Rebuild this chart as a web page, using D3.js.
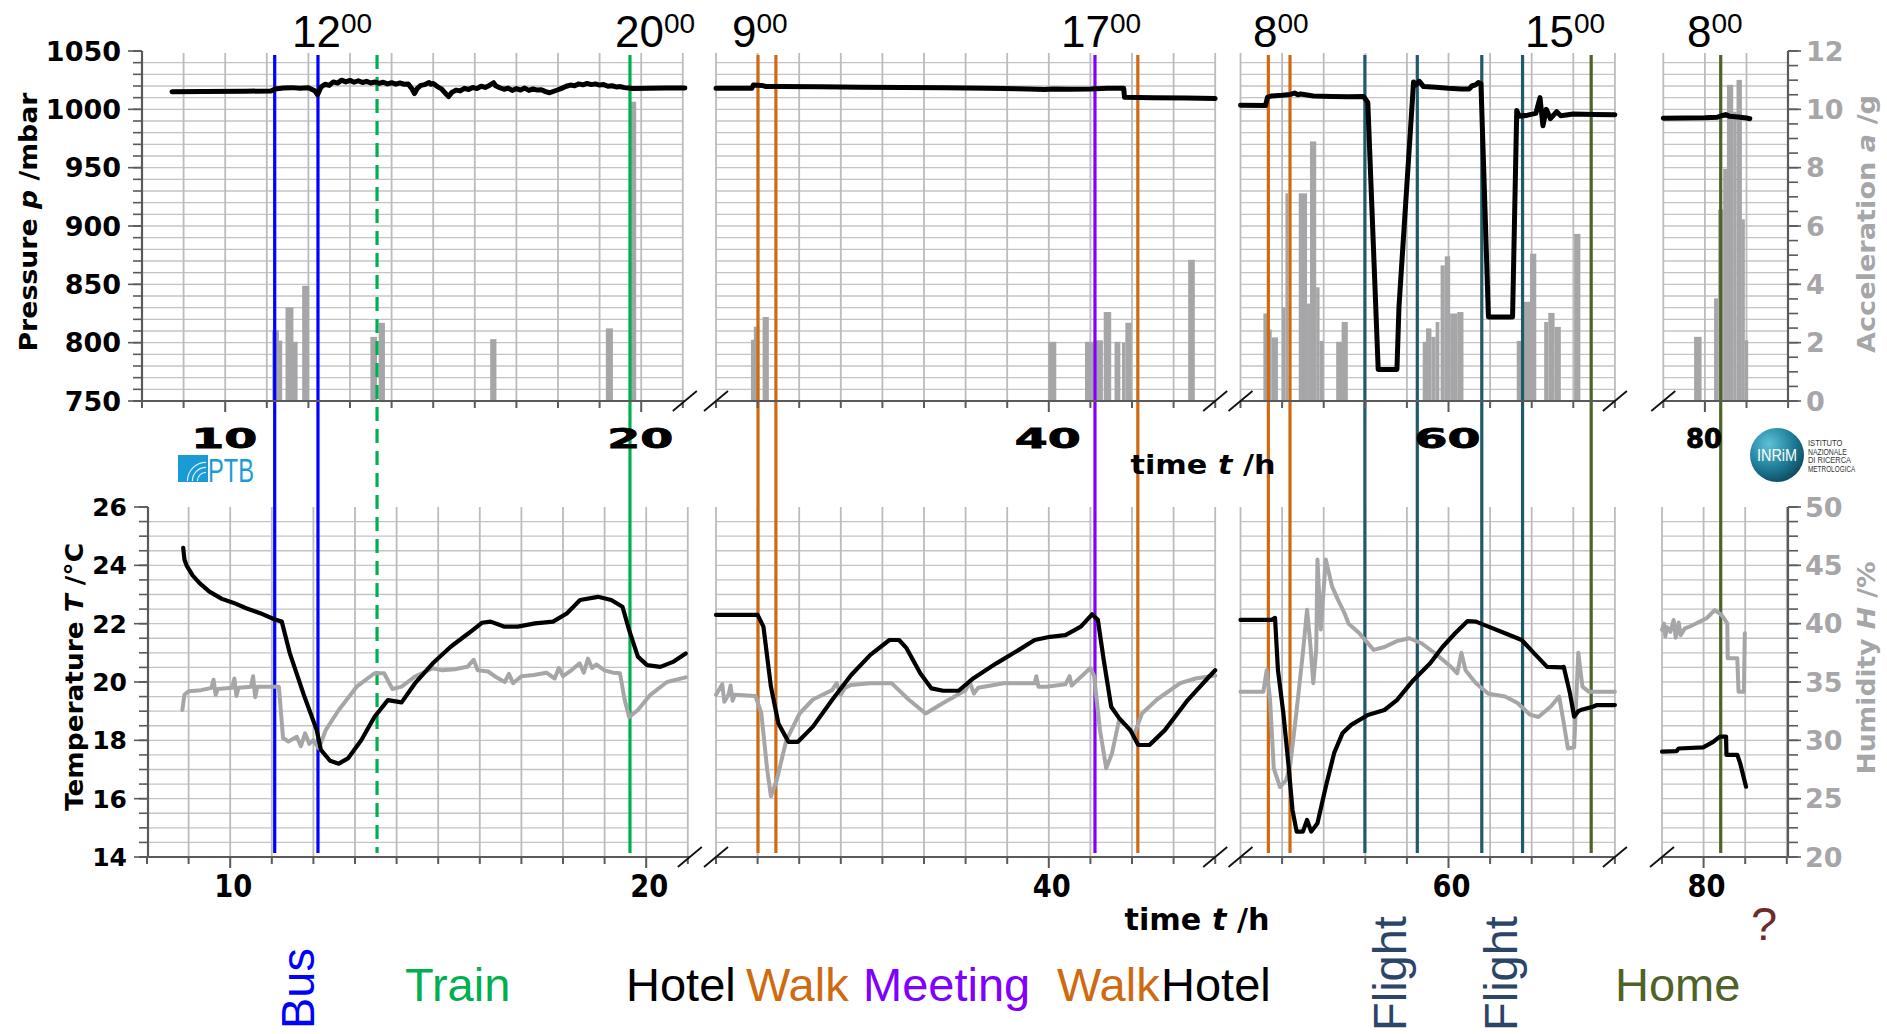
<!DOCTYPE html>
<html><head><meta charset="utf-8">
<script src="https://cdn.jsdelivr.net/npm/d3@7"></script>
<style>body{margin:0;background:#fff}svg{display:block}</style>
</head><body>
<svg id="c" width="1887" height="1034"></svg>
<script>
// ---------------- DATA ----------------
const segments = [[8, 21], [32, 44], [55, 64], [79, 82]];
const pressureTicks = [750, 800, 850, 900, 950, 1000, 1050];
const accelTicks = [0, 2, 4, 6, 8, 10, 12];
const tempTicks = [14, 16, 18, 20, 22, 24, 26];
const humTicks = [20, 25, 30, 35, 40, 45, 50];
const timeTickLabels = [10, 20, 40, 60, 80];
const clockMain = ["12", "20", "9", "17", "8", "15", "8"];
const clockSup = ["00", "00", "00", "00", "00", "00", "00"];

const pressureSeg1 = [[8.72,1015.0],[9.5,1015.3],[10.5,1015.5],[11.1,1015.8],[11.2,1017.5],[11.4,1018.2],[11.6,1018.6],[11.8,1018.0],[12.0,1018.5],[12.15,1016.0],[12.22,1012.5],[12.3,1019.0],[12.4,1021.5],[12.5,1020.5],[12.6,1023.5],[12.7,1022.5],[12.8,1025.0],[12.9,1023.5],[13.0,1024.8],[13.1,1023.2],[13.2,1024.5],[13.3,1023.0],[13.4,1024.0],[13.5,1022.6],[13.6,1023.4],[13.7,1022.2],[13.8,1023.2],[13.9,1021.8],[14.0,1022.8],[14.1,1021.6],[14.2,1022.6],[14.3,1021.5],[14.4,1021.8],[14.5,1017.0],[14.55,1013.5],[14.62,1018.0],[14.7,1020.5],[14.8,1021.2],[14.9,1023.0],[14.95,1021.5],[15.0,1022.2],[15.1,1019.5],[15.2,1017.5],[15.3,1013.5],[15.37,1011.0],[15.45,1014.5],[15.55,1016.5],[15.65,1015.8],[15.75,1018.0],[15.85,1017.0],[15.95,1018.8],[16.05,1017.8],[16.15,1019.8],[16.25,1018.8],[16.35,1020.5],[16.45,1022.8],[16.5,1020.2],[16.6,1018.5],[16.7,1017.2],[16.8,1018.2],[16.9,1016.2],[17.0,1017.8],[17.1,1016.5],[17.2,1018.2],[17.3,1016.2],[17.4,1017.5],[17.5,1016.5],[17.6,1016.8],[17.7,1015.2],[17.8,1014.2],[17.9,1015.5],[18.0,1016.8],[18.1,1018.2],[18.2,1019.8],[18.3,1020.8],[18.4,1020.2],[18.5,1021.8],[18.6,1021.0],[18.7,1022.2],[18.8,1021.2],[18.9,1021.8],[19.0,1020.8],[19.1,1021.2],[19.2,1019.8],[19.3,1020.2],[19.4,1019.2],[19.5,1019.5],[19.6,1018.6],[19.7,1018.2],[19.8,1017.8],[20.2,1018.0],[20.6,1018.2],[21.05,1018.3]];
const pressureSeg2 = [[32.0,1018.0],[32.86,1018.0],[32.9,1020.9],[33.1,1020.5],[33.2,1019.6],[33.5,1019.5],[34.5,1019.3],[35.5,1019.0],[36.5,1018.8],[37.5,1018.5],[38.5,1018.0],[39.5,1017.5],[39.9,1017.0],[40.1,1017.5],[40.5,1017.3],[41.0,1017.5],[41.4,1018.0],[41.8,1018.0],[41.82,1010.3],[42.5,1010.0],[43.3,1009.7],[44.0,1009.3]];
const pressureSeg3 = [[55.0,1003.5],[55.6,1003.2],[55.65,1010.5],[55.75,1011.5],[56.0,1012.0],[56.2,1012.8],[56.3,1014.0],[56.38,1012.5],[56.45,1013.2],[56.75,1011.5],[57.2,1011.0],[57.6,1010.8],[57.96,1011.0],[58.06,1006.0],[58.31,777.0],[58.76,777.0],[58.81,831.0],[59.16,1023.5],[59.22,1021.0],[59.3,1024.0],[59.4,1019.5],[59.7,1019.0],[60.0,1018.0],[60.3,1017.5],[60.5,1017.5],[60.56,1020.0],[60.65,1021.0],[60.72,1023.0],[60.78,1022.0],[60.96,822.0],[61.54,822.0],[61.64,999.0],[61.7,994.0],[61.9,995.0],[62.1,996.5],[62.2,1010.0],[62.27,986.0],[62.35,1000.0],[62.45,992.0],[62.6,998.0],[62.7,994.5],[63.0,996.0],[63.5,995.5],[64.0,995.3]];
const pressureSeg4 = [[79.0,992.3],[79.5,992.5],[80.0,992.8],[80.3,993.3],[80.4,994.5],[80.5,995.5],[80.6,994.0],[80.8,993.5],[81.0,992.5],[81.08,992.0]];

const accelBars = [[11.13,11.29,2.43],[11.24,11.37,2.07],[11.45,11.64,3.21],[11.62,11.74,2.03],[11.85,12.02,3.95],[13.49,13.65,2.2],[13.69,13.84,2.68],[16.37,16.52,2.12],[19.15,19.32,2.49],[19.75,19.88,10.26],
 [32.84,32.95,2.1],[32.91,33.04,2.55],[33.12,33.27,2.88],[39.99,40.18,2.03],[40.87,41.07,2.03],[41.07,41.3,2.08],[41.32,41.5,3.05],[41.58,41.72,2.03],[41.76,41.84,2.0],[41.84,41.99,2.68],[43.35,43.51,4.84],
 [55.55,55.67,3.0],[55.67,55.75,2.45],[55.75,55.9,2.18],[56.0,56.08,3.22],[56.08,56.15,7.12],[56.4,56.6,7.12],[56.6,56.67,3.34],[56.67,56.82,8.9],[56.82,56.9,3.9],[56.9,57.0,2.06],[57.3,57.45,2.03],[57.43,57.58,2.71],[59.38,59.5,2.03],[59.46,59.59,2.49],[59.59,59.69,2.2],[59.69,59.78,2.71],[59.81,59.91,4.65],[59.91,60.04,4.96],[60.04,60.21,3.0],[60.21,60.36,3.05],[61.64,61.76,2.06],[61.81,61.96,3.4],[61.96,62.11,5.05],[62.3,62.4,2.71],[62.4,62.55,3.02],[62.55,62.7,2.54],[63.02,63.17,5.73],
 [79.74,79.92,2.2],[80.22,80.32,3.52],[80.32,80.44,6.57],[80.44,80.53,7.96],[80.53,80.68,10.84],[80.68,80.76,9.92],[80.76,80.89,11.01],[80.89,80.96,6.23],[80.96,81.04,2.08]];

const tempSeg1 = [[8.87,24.6],[8.9,24.2],[8.95,24.0],[9.1,23.65],[9.27,23.38],[9.5,23.1],[9.8,22.85],[10.07,22.72],[10.4,22.52],[10.72,22.36],[11.06,22.15],[11.24,22.07],[11.43,21.0],[11.76,19.6],[12.08,18.35],[12.18,17.67],[12.4,17.3],[12.61,17.2],[12.83,17.38],[13.15,18.0],[13.47,18.81],[13.79,19.38],[14.12,19.3],[14.44,19.95],[14.87,20.64],[15.3,21.21],[15.73,21.67],[16.05,22.03],[16.26,22.07],[16.58,21.9],[16.91,21.9],[17.33,22.01],[17.76,22.07],[18.09,22.35],[18.41,22.81],[18.84,22.92],[19.16,22.81],[19.43,22.58],[19.59,21.78],[19.8,20.87],[20.02,20.58],[20.34,20.52],[20.66,20.7],[20.95,20.98]];
const tempSeg2 = [[32.0,22.3],[33.0,22.3],[33.14,21.9],[33.32,19.84],[33.5,18.58],[33.74,17.95],[33.97,17.95],[34.33,18.47],[34.79,19.38],[35.25,20.24],[35.71,20.93],[36.17,21.44],[36.4,21.44],[36.58,21.16],[36.91,20.3],[37.18,19.78],[37.46,19.7],[37.83,19.7],[38.19,20.13],[38.74,20.64],[39.3,21.12],[39.66,21.44],[40.03,21.55],[40.4,21.61],[40.77,21.9],[41.04,22.32],[41.18,22.13],[41.32,20.76],[41.5,19.15],[41.69,18.76],[41.96,18.35],[42.15,17.84],[42.42,17.84],[42.79,18.35],[43.34,19.38],[43.89,20.24],[44.0,20.4]];
const tempSeg3 = [[55.0,22.13],[55.75,22.13],[55.83,22.2],[55.9,20.41],[56.03,18.93],[56.15,17.21],[56.25,15.61],[56.35,14.87],[56.5,14.87],[56.6,15.27],[56.7,14.87],[56.85,15.16],[57.05,16.41],[57.25,17.56],[57.45,18.24],[57.66,18.53],[58.06,18.87],[58.46,19.04],[58.76,19.38],[59.16,20.07],[59.56,20.64],[59.86,21.21],[60.16,21.67],[60.46,22.09],[60.66,22.07],[60.96,21.9],[61.36,21.67],[61.76,21.44],[62.06,20.98],[62.37,20.52],[62.72,20.5],[62.77,20.52],[62.92,19.61],[63.02,18.81],[63.12,19.0],[63.22,19.06],[63.47,19.15],[63.57,19.21],[64.0,19.21]];
const tempSeg4 = [[79.0,17.61],[79.35,17.63],[79.4,17.72],[79.99,17.76],[80.23,17.95],[80.39,18.13],[80.54,18.13],[80.55,17.5],[80.81,17.5],[80.88,17.21],[81.02,16.41]];

const humSeg1 = [[8.85,32.6],[8.9,33.9],[9.0,34.2],[9.3,34.3],[9.55,34.5],[9.6,35.2],[9.65,33.9],[9.7,34.4],[10.05,34.5],[10.1,35.3],[10.15,33.8],[10.2,34.5],[10.5,34.6],[10.55,35.5],[10.6,33.7],[10.65,34.6],[11.17,34.6],[11.27,30.2],[11.4,29.9],[11.6,30.3],[11.7,29.5],[11.8,30.6],[11.9,29.7],[12.0,30.0],[12.13,29.3],[12.3,30.9],[12.61,32.6],[13.04,34.6],[13.47,35.75],[13.7,35.75],[13.9,34.4],[14.12,34.6],[14.44,35.46],[14.87,36.18],[15.1,36.0],[15.4,36.1],[15.7,36.3],[15.85,36.9],[15.95,36.0],[16.2,35.9],[16.4,35.4],[16.6,35.0],[16.7,35.7],[16.8,34.9],[17.0,35.5],[17.3,35.6],[17.6,35.8],[17.8,35.3],[17.9,36.2],[18.0,35.5],[18.2,36.0],[18.4,36.6],[18.5,35.8],[18.6,37.0],[18.7,36.2],[18.8,36.5],[19.0,36.0],[19.2,35.8],[19.37,35.75],[19.48,33.5],[19.59,32.0],[19.8,32.6],[20.1,33.9],[20.5,35.0],[20.95,35.4]];
const humSeg2 = [[32.0,33.9],[32.15,34.8],[32.2,33.3],[32.3,33.9],[32.35,34.7],[32.4,33.4],[32.45,33.9],[32.95,33.8],[33.09,32.3],[33.23,27.5],[33.32,25.2],[33.46,26.6],[33.69,30.0],[34.01,32.3],[34.33,33.5],[34.79,34.3],[34.9,34.9],[35.0,33.9],[35.1,34.5],[35.25,34.75],[35.71,34.9],[36.22,34.9],[36.63,33.5],[37.04,32.3],[37.46,33.2],[38.0,34.3],[38.1,35.0],[38.2,34.0],[38.3,34.5],[38.92,34.9],[39.66,34.9],[39.7,35.5],[39.75,34.6],[39.94,34.6],[40.4,34.8],[40.5,35.5],[40.55,34.7],[41.0,36.2],[41.09,35.5],[41.23,30.9],[41.38,27.6],[41.52,28.9],[41.69,31.75],[41.87,31.2],[42.05,30.5],[42.24,32.3],[42.6,33.5],[43.16,34.9],[43.53,35.3],[43.89,35.5],[44.0,35.55]];
const humSeg3 = [[55.0,34.17],[55.55,34.17],[55.63,36.0],[55.71,33.5],[55.8,27.6],[55.95,26.0],[56.1,26.6],[56.2,28.0],[56.35,32.6],[56.5,37.5],[56.6,41.2],[56.67,38.6],[56.75,34.9],[56.82,37.75],[56.85,45.5],[56.93,39.5],[57.05,45.5],[57.2,43.2],[57.35,42.0],[57.5,40.9],[57.6,40.0],[57.85,39.2],[58.2,37.75],[58.46,38.0],[58.76,38.5],[59.06,38.75],[59.36,38.3],[59.66,37.5],[59.86,36.9],[60.06,36.3],[60.21,35.75],[60.31,37.5],[60.41,36.0],[60.66,34.9],[60.96,34.0],[61.36,33.75],[61.66,33.2],[61.96,32.2],[62.16,32.0],[62.46,32.9],[62.66,33.75],[62.77,31.5],[62.87,29.3],[63.02,29.4],[63.12,37.5],[63.22,34.6],[63.37,34.17],[64.0,34.17]];
const humSeg4 = [[79.0,39.46],[79.05,40.0],[79.08,38.9],[79.12,39.7],[79.2,39.3],[79.28,40.3],[79.33,38.8],[79.4,40.1],[79.45,39.0],[79.55,39.6],[79.66,39.74],[80.07,40.46],[80.27,41.17],[80.43,40.75],[80.57,40.03],[80.58,37.03],[80.81,37.03],[80.84,34.17],[80.97,34.17],[80.99,39.18]];

const eventTimes = [11.19, 12.23, 13.65, 19.73, 33.01, 33.44, 41.11, 42.14, 55.67, 56.19, 57.99, 59.25, 60.80, 61.78, 63.43, 80.38];
const eventKinds = ["bus","bus","trainStart","train","walk","walk","meeting","walk","walk","walk","flight","flight","flight","flight","home","home"];

const activityTexts = ["Bus","Train","Hotel","Walk","Meeting","Walk","Hotel","Flight","Flight","Home","?"];
const activityKinds = ["bus","train","hotel","walk","meeting","walk","hotel","flightText","flightText","home","unknown"];

// ---------------- STYLE / LAYOUT ----------------
const kindColor = {bus:"#0000ff", train:"#00b050", trainStart:"#00b050", walk:"#d06a10", meeting:"#7f00ff",
  flight:"#1f5a6c", flightText:"#2a4567", home:"#4f6228", hotel:"#000000", unknown:"#6d2b2b"};
const GRAY = "#a6a6a8", AX = "#5a5a5a", GRID = "#c4c4c4";
const PXH = 41.6;
const upperX0 = [142, 716, 1240.5, 1663.3];
const lowerX0 = [147, 716, 1240.5, 1662];
const UT = 51, UB = 401, LT = 507, LB = 857;
const FAX = "DejaVu Sans, Verdana, sans-serif";
const FAR = "Liberation Sans, Arial, sans-serif";

const mk = x0s => segments.map((s, i) => d3.scaleLinear().domain(s).range([x0s[i], x0s[i] + (s[1] - s[0]) * PXH]));
const xU = mk(upperX0), xL = mk(lowerX0);
const segOf = t => segments.findIndex(s => t >= s[0] - 0.01 && t <= s[1] + 0.01);
const yP = d3.scaleLinear().domain([750, 1050]).range([UB, UT]);
const yA = d3.scaleLinear().domain([0, 12]).range([UB, UT]);
const yT = d3.scaleLinear().domain([14, 26]).range([LB, LT]);
const yH = d3.scaleLinear().domain([20, 50]).range([LB, LT]);

const svg = d3.select("#c");
const gGrid = svg.append("g"), gBars = svg.append("g"), gEv = svg.append("g"), gLines = svg.append("g"), gAx = svg.append("g"), gTxt = svg.append("g");

function hline(g, x1, x2, y, c, w){ g.append("line").attr("x1",x1).attr("x2",x2).attr("y1",y).attr("y2",y).attr("stroke",c).attr("stroke-width",w); }
function vline(g, x, y1, y2, c, w){ g.append("line").attr("x1",x).attr("x2",x).attr("y1",y1).attr("y2",y2).attr("stroke",c).attr("stroke-width",w); }

// ---------- grids & bottom axes ----------
function panel(xs, top, bottom, hVals, yScale, topGrid){
  segments.forEach((s, i) => {
    const [xa, xb] = xs[i].range();
    hVals.forEach(v => hline(gGrid, xa, xb, yScale(v), GRID, 1.4));
    d3.range(Math.ceil(s[0]), Math.floor(s[1]) + 1).forEach(t => {
      if (i === 0 && t === s[0]) return;
      vline(gGrid, xs[i](t), topGrid, bottom, "#bcbcbc", 1.8);
    });
    hline(gAx, xa - (i === 0 ? 8 : 0), xb + (i === 0 ? 2 : 0), bottom, AX, 2);
    d3.range(Math.ceil(s[0]), Math.floor(s[1]) + 1).forEach(t => {
      const major = timeTickLabels.includes(t);
      vline(gAx, xs[i](t), bottom, bottom + (major ? 11 : 7), AX, 2);
    });
    const marks = [];
    if (i > 0) marks.push(xa);
    if (i < segments.length - 1) marks.push(xb + (i === 0 ? 2 : 0));
    marks.forEach(mx => gAx.append("line").attr("x1", mx - 12).attr("y1", bottom + 10).attr("x2", mx + 12).attr("y2", bottom - 10).attr("stroke", "#111").attr("stroke-width", 1.8));
  });
}
panel(xU, UT, UB, d3.range(760, 1041, 10), yP, UT + 2);
panel(xL, LT, LB, d3.range(14.5, 25.51, 0.5), yT, LT);

// ---------- left / right axes ----------
function leftAxis(x, top, bottom, scale, minorVals, majorVals, lblX, fs){
  vline(gAx, x, top, bottom, AX, 2.2);
  minorVals.forEach(v => hline(gAx, x - 9, x, scale(v), AX, 1.6));
  majorVals.forEach(v => {
    hline(gAx, x - 14, x, scale(v), AX, 1.6);
    gTxt.append("text").attr("x", lblX).attr("y", scale(v)).attr("dy", "0.36em").attr("text-anchor", "end")
      .attr("font-family", FAX).attr("font-weight", "bold").attr("font-size", fs).attr("fill", "#000").text(v);
  });
}
function rightAxis(x, top, bottom, scale, minorVals, majorVals, lblX, fs){
  vline(gAx, x, top, bottom, AX, 2.2);
  minorVals.forEach(v => hline(gAx, x, x + 10, scale(v), AX, 1.6));
  majorVals.forEach(v => {
    hline(gAx, x, x + 13, scale(v), AX, 1.6);
    gTxt.append("text").attr("x", lblX).attr("y", scale(v)).attr("dy", "0.36em").attr("text-anchor", "start")
      .attr("font-family", FAX).attr("font-weight", "bold").attr("font-size", fs).attr("fill", GRAY).text(v);
  });
}
leftAxis(142, UT, UB, yP, d3.range(750, 1051, 10), pressureTicks, 121, 27);
rightAxis(1788, UT, UB, yA, d3.range(0, 12.01, 0.5), accelTicks, 1806, 27);
leftAxis(148, LT, LB, yT, d3.range(14, 26.01, 0.5), tempTicks, 127, 25);
rightAxis(1788, LT, LB, yH, d3.range(20, 50.01, 1.25), humTicks, 1805, 27);

// ---------- acceleration bars ----------
gBars.selectAll("rect").data(accelBars).join("rect")
  .attr("x", d => xU[segOf(d[0])](d[0]))
  .attr("width", d => xU[segOf(d[0])](d[1]) - xU[segOf(d[0])](d[0]))
  .attr("y", d => yA(d[2]))
  .attr("height", d => yA(0) - yA(d[2]))
  .attr("fill", GRAY);

// ---------- event lines ----------
eventTimes.forEach((t, i) => {
  const k = eventKinds[i];
  const l = gEv.append("line").attr("x1", xU[segOf(t)](t)).attr("x2", xU[segOf(t)](t)).attr("y1", 55).attr("y2", 853)
    .attr("stroke", kindColor[k]).attr("stroke-width", 3.2);
  if (k === "trainStart") l.attr("stroke-dasharray", "14,8");
});

// ---------- data lines ----------
function drawSeries(list, xs, y, color, w){
  list.forEach(arr => {
    const i = segOf(arr[0][0]);
    gLines.append("path").datum(arr)
      .attr("d", d3.line().x(d => xs[i](d[0])).y(d => y(d[1])))
      .attr("fill", "none").attr("stroke", color).attr("stroke-width", w)
      .attr("stroke-linejoin", "round").attr("stroke-linecap", "round");
  });
}
drawSeries([humSeg1, humSeg2, humSeg3, humSeg4], xL, yH, GRAY, 4);
drawSeries([tempSeg1, tempSeg2, tempSeg3, tempSeg4], xL, yT, "#000", 4.2);
drawSeries([pressureSeg1, pressureSeg2, pressureSeg3, pressureSeg4], xU, yP, "#000", 5);

// ---------- axis titles ----------
function vTitle(cx, cy, parts, fill, len){
  const t = gTxt.append("text").attr("transform", `translate(${cx},${cy}) rotate(-90)`)
    .attr("text-anchor", "middle").attr("dy", "0.36em").attr("font-family", FAX).attr("font-weight", "bold")
    .attr("font-size", 25).attr("fill", fill).attr("textLength", len).attr("lengthAdjust", "spacingAndGlyphs");
  parts.forEach(p => t.append("tspan").attr("font-style", p[1] ? "italic" : "normal").text(p[0]));
}
vTitle(28, 222, [["Pressure ", 0], ["p", 1], [" /mbar", 0]], "#000", 259);
vTitle(74, 677, [["Temperature ", 0], ["T", 1], [" /°C", 0]], "#000", 268);
vTitle(1866, 224, [["Acceleration ", 0], ["a", 1], [" /g", 0]], GRAY, 258);
vTitle(1866, 668, [["Humidity ", 0], ["H", 1], [" /%", 0]], GRAY, 213);

function hTitle(cx, by, fs, len){
  const t = gTxt.append("text").attr("x", cx).attr("y", by).attr("text-anchor", "middle").attr("font-family", FAX)
    .attr("font-weight", "bold").attr("font-size", fs).attr("fill", "#000").attr("textLength", len).attr("lengthAdjust", "spacingAndGlyphs");
  [["time ", 0], ["t", 1], [" /h", 0]].forEach(p => t.append("tspan").attr("font-style", p[1] ? "italic" : "normal").text(p[0]));
}
hTitle(1203, 474, 27, 145);
hTitle(1197, 930, 31, 145);

// ---------- time tick labels ----------
timeTickLabels.forEach(t => {
  const i = segOf(t);
  const wide = t !== 80;
  gTxt.append("text").attr("x", xU[i](t) - 1).attr("y", 448).attr("text-anchor", "middle").attr("font-family", FAX)
    .attr("font-weight", "bold").attr("font-size", 26).attr("fill", "#000").attr("stroke", "#000").attr("stroke-width", 0.8)
    .attr("textLength", wide ? 66 : 36).attr("lengthAdjust", "spacingAndGlyphs").text(t);
  gTxt.append("text").attr("x", xL[i](t) + 3).attr("y", 897).attr("text-anchor", "middle").attr("font-family", FAX)
    .attr("font-weight", "bold").attr("font-size", 32).attr("fill", "#000")
    .attr("textLength", 38).attr("lengthAdjust", "spacingAndGlyphs").text(t);
});

// ---------- clock labels ----------
const clockX = [292, 615, 732, 1061, 1253, 1525, 1687];
clockMain.forEach((m, i) => {
  const t = gTxt.append("text").attr("x", clockX[i]).attr("y", 47).attr("font-family", FAR).attr("font-size", 44).attr("fill", "#000");
  t.append("tspan").text(m);
  t.append("tspan").attr("font-size", 28).attr("dy", -14).text(clockSup[i]);
});

// ---------- activity labels ----------
const actPos = [[314,1029,1],[405,1001,0],[626,1001,0],[746,1001,0],[863,1001,0],[1057,1001,0],[1161,1001,0],[1406,1031,1],[1517,1031,1],[1615,1001,0],[1751,940,0]];
activityTexts.forEach((s, i) => {
  const [x, y, rot] = actPos[i];
  const t = gTxt.append("text").attr("font-family", FAR).attr("font-size", 47).attr("fill", kindColor[activityKinds[i]]).text(s);
  if (rot) t.attr("transform", `translate(${x},${y}) rotate(-90)`);
  else t.attr("x", x).attr("y", y);
});

// ---------- logos ----------
const ptb = svg.append("g");
ptb.append("rect").attr("x", 178).attr("y", 455).attr("width", 30).attr("height", 27).attr("fill", "#1b9bd6");
[8, 13, 18].forEach(r => ptb.append("path").attr("d", d3.arc()({innerRadius: r, outerRadius: r + 1.2, startAngle: -Math.PI / 2, endAngle: 0}))
  .attr("transform", "translate(206,481)").attr("fill", "#dff2fb"));
ptb.append("text").attr("x", 208).attr("y", 482).attr("font-family", FAR).attr("font-size", 34).attr("fill", "#1b9bd6")
  .attr("textLength", 46).attr("lengthAdjust", "spacingAndGlyphs").text("PTB");

const defs = svg.append("defs");
const gr = defs.append("radialGradient").attr("id", "inr").attr("cx", "35%").attr("cy", "30%").attr("r", "75%");
gr.append("stop").attr("offset", "0%").attr("stop-color", "#5cc2d8");
gr.append("stop").attr("offset", "60%").attr("stop-color", "#1f7d98");
gr.append("stop").attr("offset", "100%").attr("stop-color", "#0e4a5e");
const inr = svg.append("g");
inr.append("circle").attr("cx", 1777).attr("cy", 455).attr("r", 27).attr("fill", "url(#inr)");
inr.append("text").attr("x", 1777).attr("y", 461).attr("text-anchor", "middle").attr("font-family", FAR).attr("font-size", 16)
  .attr("fill", "#fff").attr("textLength", 40).attr("lengthAdjust", "spacingAndGlyphs").text("INRiM");
["ISTITUTO", "NAZIONALE", "DI RICERCA", "METROLOGICA"].forEach((s, i) => inr.append("text").attr("x", 1808).attr("y", 446 + i * 8.5)
  .attr("font-family", FAR).attr("font-size", 9).attr("fill", "#333").attr("textLength", s.length * 4.3).attr("lengthAdjust", "spacingAndGlyphs").text(s));
</script>
</body></html>
